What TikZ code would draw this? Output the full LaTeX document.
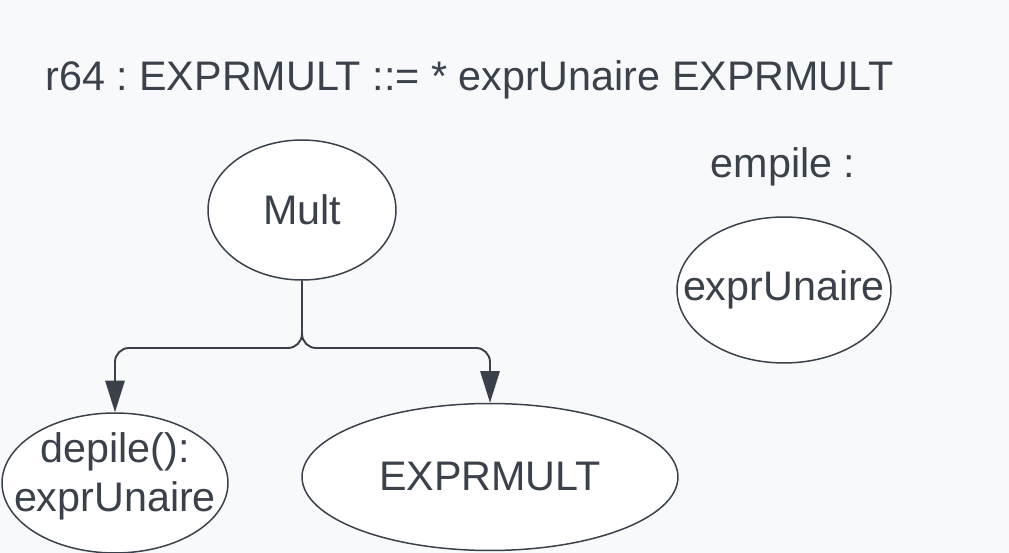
\documentclass[tikz,border=0pt]{standalone}
\usepackage{fontspec}
\setmainfont{Liberation Sans}
\usetikzlibrary{arrows.meta, positioning, shapes.geometric}
\definecolor{BG}{RGB}{248,249,251}
\definecolor{DG}{RGB}{58,65,74}
\frenchspacing

\begin{document}
\begin{tikzpicture}[x=0.02cm, y=-0.02cm,
  ell/.style={draw=DG, ellipse, fill=white, line width=0.85pt, inner sep=0pt},
  lbl/.style={text=DG, font=\fontsize{23.5}{27.8}\selectfont, inner sep=0pt,
              align=center},
  arr/.style={-{Triangle[length=18pt,width=11pt]}, line width=1.1pt, draw=DG,
              rounded corners=8pt}
]
% Background
\fill[BG] (0,0) rectangle (1009,553);
\useasboundingbox (0,0) rectangle (1009,553);

% Rule
\node[lbl, anchor=west] (rule) at (45,80) {r64 : EXPRMULT ::= * exprUnaire EXPRMULT};

% Tree
\node[ell, minimum width=3.76cm, minimum height=2.8cm] (mult) at (302,210) {};
\node[lbl] (multtxt) at (mult) {Mult};
\node[ell, minimum width=4.52cm, minimum height=2.8cm] (dep) at (115,483) {};
\node[lbl] (deptxt) at (115,476) {depile():\\exprUnaire};
\node[ell, minimum width=7.52cm, minimum height=2.94cm] (expr) at (490,477) {};
\node[lbl] (exprtxt) at (expr) {EXPRMULT};

% Stack
\node[lbl] (empile) at (783,167) {empile :};
\node[ell, minimum width=4.28cm, minimum height=2.92cm] (unaire) at (784,290) {};
\node[lbl] (unairetxt) at (unaire) {exprUnaire};

% Arrows
\coordinate (split) at (302,348);
\draw[arr] (mult.south) -- (split) -| (dep.north);
\draw[arr] (mult.south) -- (split) -| (expr.north);
\end{tikzpicture}
\end{document}
